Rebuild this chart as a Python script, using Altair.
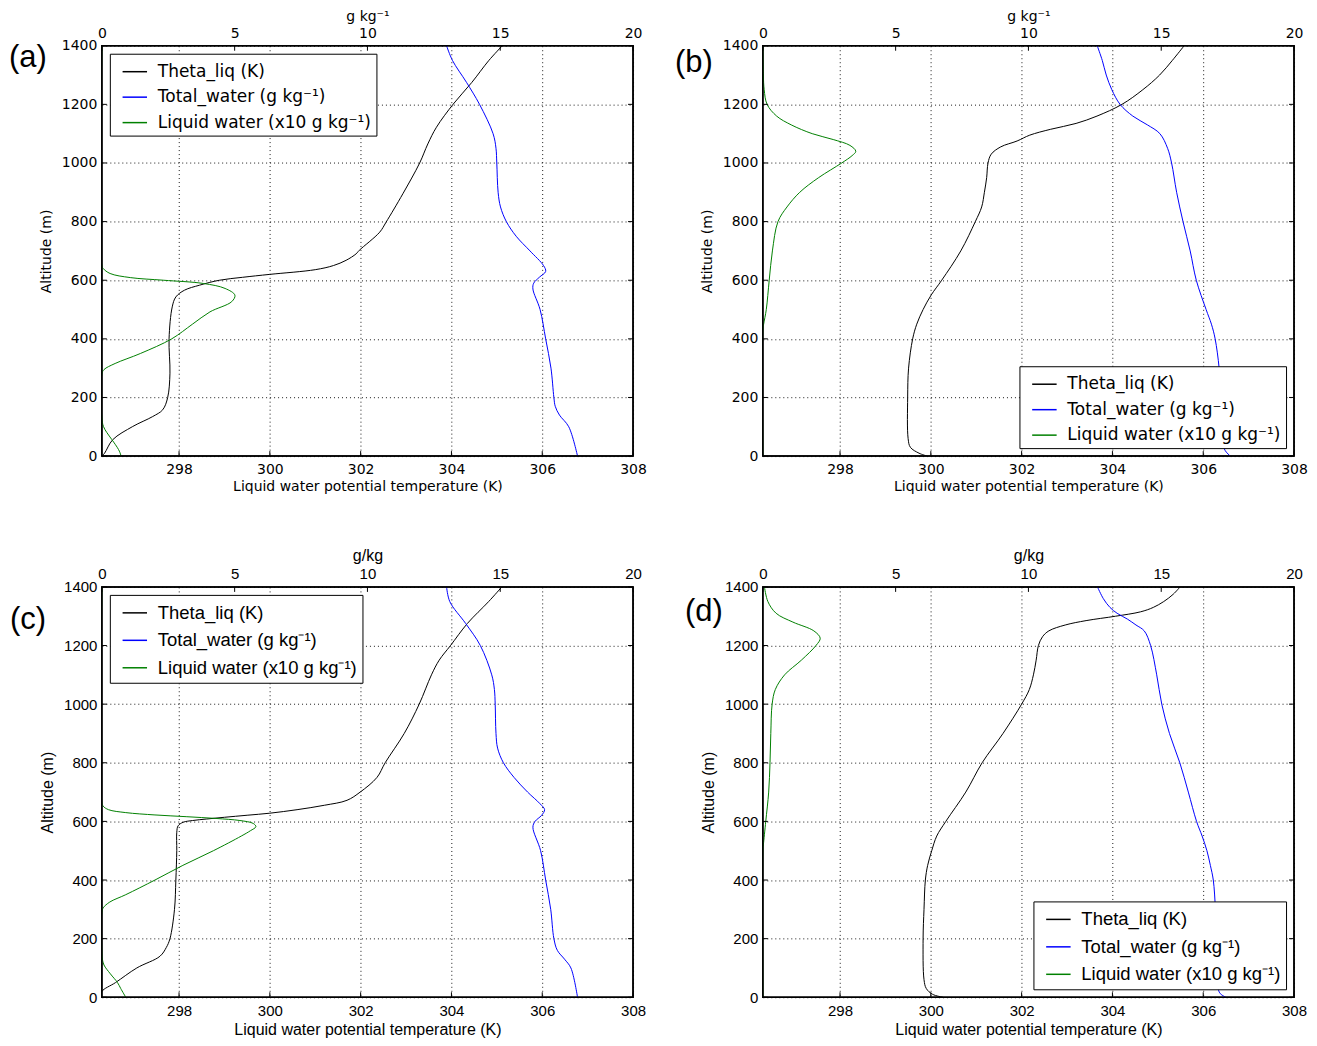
import altair as alt
import pandas as pd

SERIES = ["Theta_liq (K)", "Total_water (g kg⁻¹)", "Liquid water (x10 g kg⁻¹)"]
COLORS = ["#000000", "#0000ff", "#008000"]
THETA_TICKS = [298, 300, 302, 304, 306, 308]
WATER_TICKS = [0, 5, 10, 15, 20]
ALT_TICKS = [0, 200, 400, 600, 800, 1000, 1200, 1400]
PANEL_LABELS = ["(a)", "(b)", "(c)", "(d)"]
TOP_TITLES = ["g kg⁻¹", "g kg⁻¹", "g/kg", "g/kg"]

# ---------------- panel (a) ----------------
A_TH_ALT = [0, 10, 56, 101, 135, 158, 200, 283, 400, 509, 543, 566, 583, 600, 610, 620, 636, 650, 668, 690, 702, 764, 798, 895, 1000, 1065, 1122, 1201, 1275, 1349, 1400]
A_TH_VAL = [296.3, 296.36, 296.54, 296.98, 297.42, 297.64, 297.75, 297.8, 297.78, 297.85, 297.93, 298.12, 298.45, 298.89, 299.4, 300.0, 301.0, 301.4, 301.68, 301.9, 301.97, 302.42, 302.56, 302.93, 303.3, 303.48, 303.67, 304.04, 304.45, 304.82, 305.12]
A_TW_ALT = [0, 100, 140, 170, 200, 300, 400, 500, 570, 590, 610, 630, 650, 700, 750, 800, 850, 900, 1000, 1050, 1100, 1200, 1275, 1350, 1400]
A_TW_VAL = [17.91, 17.58, 17.23, 17.07, 17.02, 16.91, 16.71, 16.5, 16.23, 16.26, 16.47, 16.71, 16.63, 16.12, 15.6, 15.23, 15.01, 14.92, 14.87, 14.84, 14.73, 14.22, 13.73, 13.2, 12.98]
A_LW_ALT = [0, 4, 22, 56, 80, 101, 130, 280, 295, 316, 350, 400, 450, 492, 527, 549, 572, 589, 600, 609, 623, 640, 650, 1400]
A_LW_VAL = [0.71, 0.71, 0.63, 0.38, 0.19, 0.06, 0.0, 0.0, 0.08, 0.5, 1.45, 2.63, 3.41, 4.07, 4.89, 5.01, 4.64, 3.82, 2.32, 1.07, 0.31, 0.05, 0.0, 0.0]

# ---------------- panel (b) ----------------
B_TH_ALT = [0, 10, 30, 60, 200, 300, 400, 450, 500, 550, 600, 700, 800, 850, 900, 950, 1000, 1030, 1055, 1075, 1095, 1115, 1135, 1160, 1200, 1250, 1300, 1350, 1400]
B_TH_VAL = [299.92, 299.74, 299.55, 299.5, 299.49, 299.51, 299.6, 299.69, 299.83, 300.01, 300.24, 300.66, 300.98, 301.12, 301.18, 301.23, 301.26, 301.33, 301.54, 301.9, 302.18, 302.64, 303.2, 303.66, 304.21, 304.67, 305.04, 305.32, 305.58]
B_TW_ALT = [0, 20, 50, 200, 300, 400, 450, 500, 600, 700, 800, 900, 1000, 1050, 1100, 1130, 1160, 1200, 1250, 1300, 1350, 1400]
B_TW_VAL = [17.6, 17.4, 17.32, 17.24, 17.18, 17.03, 16.89, 16.69, 16.32, 16.09, 15.82, 15.58, 15.39, 15.24, 14.95, 14.48, 13.93, 13.45, 13.14, 12.93, 12.78, 12.59]
B_LW_ALT = [0, 430, 450, 500, 600, 700, 800, 850, 900, 950, 1000, 1025, 1040, 1060, 1080, 1100, 1130, 1160, 1200, 1250, 1300, 1400]
B_LW_VAL = [0.0, 0.0, 0.03, 0.13, 0.24, 0.36, 0.57, 0.91, 1.39, 2.1, 2.97, 3.36, 3.5, 3.28, 2.65, 1.86, 1.07, 0.52, 0.16, 0.05, 0.02, 0.0]

# ---------------- panel (c) ----------------
C_TH_ALT = [0, 20, 50, 100, 140, 170, 200, 300, 400, 500, 563, 585, 597, 603, 608, 614, 621, 628, 640, 655, 672, 700, 750, 800, 900, 1000, 1100, 1150, 1200, 1275, 1350, 1400]
C_TH_VAL = [296.28, 296.3, 296.6, 297.07, 297.58, 297.72, 297.8, 297.9, 297.93, 297.95, 297.95, 297.98, 298.09, 298.3, 298.6, 299.0, 299.5, 300.0, 300.6, 301.2, 301.7, 301.99, 302.36, 302.54, 302.96, 303.29, 303.56, 303.73, 303.98, 304.35, 304.82, 305.11]
C_TW_ALT = [0, 100, 130, 160, 200, 300, 400, 500, 580, 600, 620, 640, 660, 700, 750, 800, 850, 900, 1000, 1050, 1100, 1200, 1275, 1350, 1400]
C_TW_VAL = [17.91, 17.66, 17.42, 17.15, 17.02, 16.9, 16.71, 16.52, 16.23, 16.31, 16.55, 16.67, 16.5, 16.03, 15.52, 15.12, 14.9, 14.84, 14.81, 14.78, 14.68, 14.25, 13.7, 13.1, 12.98]
C_LW_ALT = [0, 30, 50, 80, 110, 130, 150, 290, 305, 325, 350, 400, 450, 500, 550, 568, 582, 593, 603, 610, 616, 622, 630, 640, 652, 665, 1400]
C_LW_VAL = [0.9, 0.71, 0.59, 0.32, 0.08, 0.02, 0.0, 0.0, 0.05, 0.3, 0.9, 2.0, 3.05, 4.2, 5.25, 5.59, 5.8, 5.7, 5.2, 4.3, 3.2, 2.0, 0.9, 0.25, 0.05, 0.0, 0.0]

# ---------------- panel (d) ----------------
D_TH_ALT = [0, 10, 30, 60, 200, 300, 400, 450, 500, 550, 600, 700, 800, 900, 1000, 1050, 1100, 1150, 1200, 1230, 1250, 1270, 1285, 1300, 1315, 1330, 1350, 1375, 1400]
D_TH_VAL = [300.27, 300.04, 299.9, 299.85, 299.83, 299.85, 299.88, 299.93, 300.02, 300.13, 300.33, 300.77, 301.13, 301.59, 302.0, 302.17, 302.26, 302.32, 302.37, 302.46, 302.6, 302.96, 303.42, 304.07, 304.62, 304.9, 305.13, 305.34, 305.49]
D_TW_ALT = [0, 15, 50, 200, 300, 400, 450, 500, 550, 600, 700, 800, 900, 1000, 1100, 1200, 1250, 1270, 1290, 1310, 1330, 1360, 1400]
D_TW_VAL = [17.43, 17.2, 17.12, 17.07, 17.04, 16.96, 16.85, 16.72, 16.54, 16.33, 16.02, 15.7, 15.31, 15.02, 14.83, 14.6, 14.36, 14.05, 13.73, 13.34, 13.07, 12.82, 12.6]
D_LW_ALT = [0, 500, 520, 600, 700, 800, 900, 1000, 1050, 1100, 1150, 1200, 1225, 1250, 1280, 1310, 1350, 1400]
D_LW_VAL = [0.0, 0.0, 0.02, 0.11, 0.22, 0.27, 0.3, 0.35, 0.47, 0.82, 1.45, 2.0, 2.16, 1.92, 1.13, 0.5, 0.19, 0.06]

PANELS = [
    (A_TH_ALT, A_TH_VAL, A_TW_ALT, A_TW_VAL, A_LW_ALT, A_LW_VAL),
    (B_TH_ALT, B_TH_VAL, B_TW_ALT, B_TW_VAL, B_LW_ALT, B_LW_VAL),
    (C_TH_ALT, C_TH_VAL, C_TW_ALT, C_TW_VAL, C_LW_ALT, C_LW_VAL),
    (D_TH_ALT, D_TH_VAL, D_TW_ALT, D_TW_VAL, D_LW_ALT, D_LW_VAL),
]

# per-panel styling (not data)
STYLE = [
    dict(font="DejaVu Sans", tick=14, title=14, leg=17, orient="top-left", lx=-93, ly=12),
    dict(font="DejaVu Sans", tick=14, title=14, leg=17, orient="bottom-right", lx=-88, ly=17),
    dict(font="Liberation Sans", tick=15, title=16, leg=18.5, orient="top-left", lx=-92, ly=33),
    dict(font="Liberation Sans", tick=15, title=16, leg=18.5, orient="bottom-right", lx=-78, ly=25),
]

W, H = 532, 411
TICK_LEN = 5


def axis(st, **kw):
    return alt.Axis(
        labelFont=st["font"], titleFont=st["font"],
        labelFontSize=st["tick"], titleFontSize=st["title"],
        titleFontWeight="normal", labelColor="black", titleColor="black",
        domain=False, ticks=False, labelFlush=False, labelOverlap=False,
        gridColor="black", gridDash=[1, 3], gridWidth=1, gridOpacity=0.9,
        format="d", **kw,
    )


def make_panel(i):
    th_alt, th_val, tw_alt, tw_val, lw_alt, lw_val = PANELS[i]
    st = STYLE[i]
    th = pd.DataFrame({"alt": th_alt, "val": th_val, "series": SERIES[0]})
    wat = pd.concat([
        pd.DataFrame({"alt": tw_alt, "val": tw_val, "series": SERIES[1]}),
        pd.DataFrame({"alt": lw_alt, "val": lw_val, "series": SERIES[2]}),
    ], ignore_index=True)

    legend = alt.Legend(
        title=None, orient=st["orient"], offset=8,
        strokeColor="black", fillColor="white", padding=5,
        symbolType="stroke", symbolSize=600, symbolStrokeWidth=1.5,
        symbolOffset=7, labelOffset=10, rowPadding=4.5, labelLimit=500,
        labelFont=st["font"], labelFontSize=st["leg"], labelColor="black",
    )
    color = alt.Color("series:N", scale=alt.Scale(domain=SERIES, range=COLORS), legend=legend)
    yenc = alt.Y(
        "alt:Q", scale=alt.Scale(domain=[0, 1400], nice=False, zero=False),
        axis=axis(st, values=ALT_TICKS, title="Altitude (m)", grid=True,
                  labelPadding=5, titlePadding=8),
    )
    xth = alt.X("val:Q", scale=alt.Scale(domain=[296.3, 308], nice=False, zero=False),
                axis=axis(st, orient="bottom", values=THETA_TICKS, grid=True,
                          title="Liquid water potential temperature (K)",
                          labelPadding=6, titlePadding=3))
    xw = alt.X("val:Q", scale=alt.Scale(domain=[0, 20], nice=False, zero=False),
               axis=axis(st, orient="top", values=WATER_TICKS, grid=False,
                         title=TOP_TITLES[i], labelPadding=5, titlePadding=3))

    theta_line = alt.Chart(th).mark_line(strokeWidth=1, interpolate="catmull-rom", clip=True).encode(
        x=xth, y=yenc, color=color, order="alt:Q")
    theta_ticks = alt.Chart(pd.DataFrame({"val": THETA_TICKS})).mark_rule(
        color="black", strokeWidth=1).encode(x=xth, y=alt.value(H), y2=alt.value(H - TICK_LEN))

    water_line = alt.Chart(wat).mark_line(strokeWidth=1, interpolate="catmull-rom", clip=True).encode(
        x=xw, y=yenc, color=color, order="alt:Q")
    water_ticks = alt.Chart(pd.DataFrame({"val": WATER_TICKS})).mark_rule(
        color="black", strokeWidth=1).encode(x=xw, y=alt.value(0), y2=alt.value(TICK_LEN))

    alt_df = pd.DataFrame({"alt": ALT_TICKS})
    left_ticks = alt.Chart(alt_df).mark_rule(color="black", strokeWidth=1).encode(
        y=yenc, x=alt.value(0), x2=alt.value(TICK_LEN))
    right_ticks = alt.Chart(alt_df).mark_rule(color="black", strokeWidth=1).encode(
        y=yenc, x=alt.value(W - TICK_LEN), x2=alt.value(W))

    frame = alt.Chart(pd.DataFrame({"f": [0]})).mark_rect(
        fillOpacity=0, stroke="black", strokeWidth=1.5
    ).encode(x=alt.value(0), x2=alt.value(W), y=alt.value(0), y2=alt.value(H))
    label = alt.Chart(pd.DataFrame({"t": [PANEL_LABELS[i]]})).mark_text(
        align="left", baseline="middle", font="Liberation Sans", fontSize=31, color="black"
    ).encode(x=alt.value(st["lx"]), y=alt.value(st["ly"]), text="t:N")

    return alt.layer(
        alt.layer(theta_line, theta_ticks),
        alt.layer(water_line, water_ticks),
        left_ticks, right_ticks, frame, label,
    ).resolve_scale(x="independent").properties(width=W, height=H)


chart = alt.concat(
    *[make_panel(i) for i in range(4)],
    columns=2, bounds="flush", spacing={"row": 131, "column": 130},
    padding={"left": 0, "top": 0, "right": 0, "bottom": 0},
).resolve_scale(color="independent").resolve_legend(color="independent").configure_view(
    stroke="black", strokeWidth=1.5
)

chart.save("out.html", embed_options={"renderer": "svg", "actions": False})
